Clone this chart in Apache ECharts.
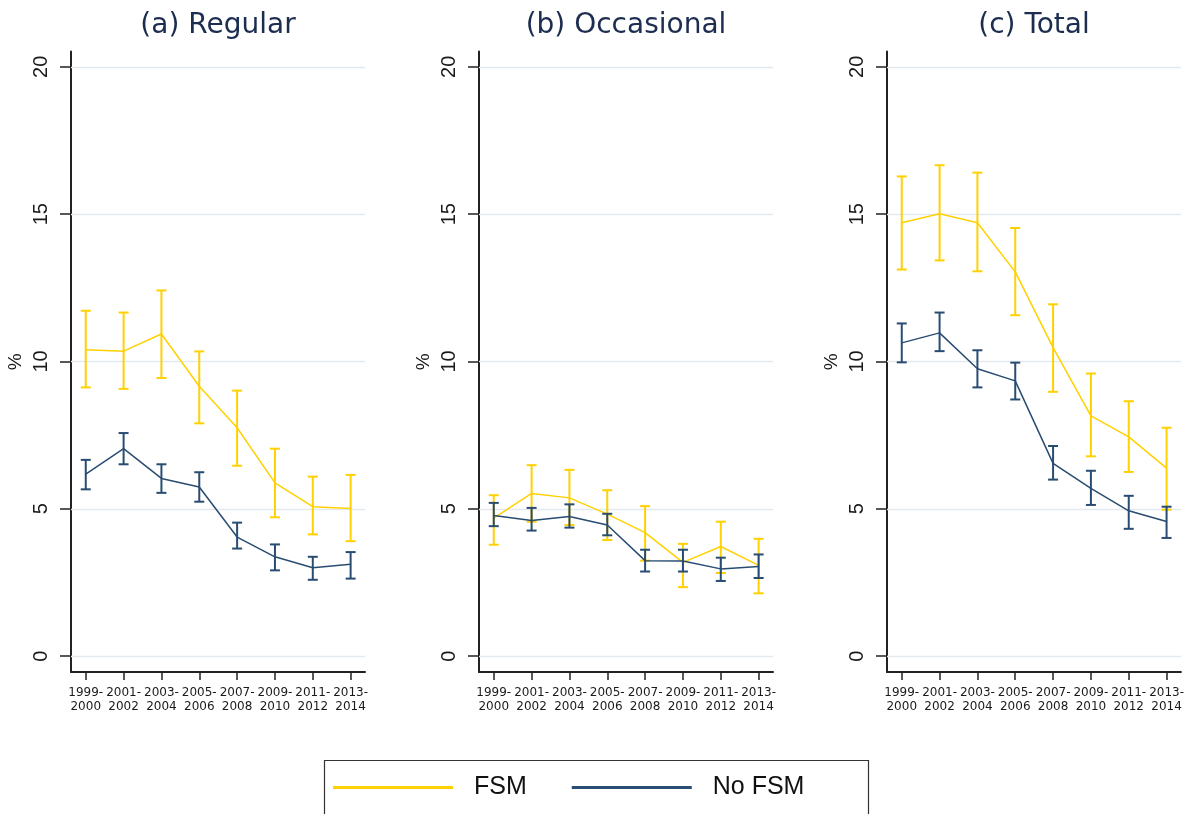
<!DOCTYPE html>
<html>
<head>
<meta charset="utf-8">
<script src="https://cdn.jsdelivr.net/npm/echarts@6/dist/echarts.min.js"></script>
<style>
html,body{margin:0;padding:0;background:#fff;}
#chart{width:1187px;height:814px;}
</style>
</head>
<body>
<div id="chart"></div>
<script>
// ---- data ----
const categories = ['1999-2000','2001-2002','2003-2004','2005-2006','2007-2008','2009-2010','2011-2012','2013-2014'];
const yTicks = [0, 5, 10, 15, 20];
const panelTitles = ['(a) Regular', '(b) Occasional', '(c) Total'];

const regularFsm   = [10.40, 10.35, 10.93, 9.16, 7.75, 5.88, 5.07, 5.01];
const regularFsmLo = [9.12, 9.07, 9.44, 7.90, 6.46, 4.71, 4.13, 3.90];
const regularFsmHi = [11.72, 11.66, 12.41, 10.34, 9.01, 7.04, 6.09, 6.15];
const regularNo    = [6.18, 7.04, 6.03, 5.74, 4.04, 3.37, 3.00, 3.12];
const regularNoLo  = [5.66, 6.51, 5.54, 5.24, 3.65, 2.91, 2.59, 2.63];
const regularNoHi  = [6.66, 7.57, 6.51, 6.24, 4.53, 3.79, 3.37, 3.53];

const occFsm   = [4.68, 5.52, 5.37, 4.82, 4.19, 3.18, 3.72, 3.08];
const occFsmLo = [3.78, 4.56, 4.45, 3.94, 3.24, 2.34, 2.82, 2.13];
const occFsmHi = [5.46, 6.48, 6.32, 5.63, 5.09, 3.81, 4.56, 3.98];
const occNo    = [4.77, 4.60, 4.74, 4.45, 3.24, 3.23, 2.96, 3.04];
const occNoLo  = [4.41, 4.26, 4.36, 4.10, 2.87, 2.87, 2.55, 2.65];
const occNoHi  = [5.20, 5.03, 5.15, 4.83, 3.61, 3.61, 3.34, 3.45];

const totFsm   = [14.71, 15.01, 14.71, 13.04, 10.47, 8.15, 7.44, 6.38];
const totFsmLo = [13.12, 13.43, 13.06, 11.57, 8.97, 6.78, 6.25, 4.97];
const totFsmHi = [16.28, 16.66, 16.41, 14.53, 11.94, 9.59, 8.65, 7.75];
const totNo    = [10.63, 10.97, 9.75, 9.34, 6.54, 5.69, 4.93, 4.57];
const totNoLo  = [9.97, 10.35, 9.12, 8.71, 5.99, 5.13, 4.32, 4.01];
const totNoHi  = [11.29, 11.66, 10.38, 9.96, 7.13, 6.29, 5.44, 5.07];

const seriesNames = ['FSM', 'No FSM'];

// ---- styling ----
const FSM_COLOR = '#FFD100';
const NO_COLOR = '#284c72';
const AXIS_COLOR = '#222';
const GRID_COLOR = '#e2eaef';
const panels = [
  {fsm: regularFsm, fsmLo: regularFsmLo, fsmHi: regularFsmHi, no: regularNo, noLo: regularNoLo, noHi: regularNoHi},
  {fsm: occFsm, fsmLo: occFsmLo, fsmHi: occFsmHi, no: occNo, noLo: occNoLo, noHi: occNoHi},
  {fsm: totFsm, fsmLo: totFsmLo, fsmHi: totFsmHi, no: totNo, noLo: totNoLo, noHi: totNoHi}
];
const gridLefts = [71, 479, 887];
const GRID_W = 294;

function errRender(color) {
  return function (params, api) {
    const x = api.value(0), lo = api.value(1), hi = api.value(2);
    const a = api.coord([x, hi]), b = api.coord([x, lo]);
    const hw = 5;
    const style = {stroke: color, lineWidth: 2, fill: null};
    return {
      type: 'group',
      children: [
        {type: 'line', shape: {x1: a[0], y1: a[1], x2: b[0], y2: b[1]}, style: style},
        {type: 'line', shape: {x1: a[0] - hw, y1: a[1], x2: a[0] + hw, y2: a[1]}, style: style},
        {type: 'line', shape: {x1: b[0] - hw, y1: b[1], x2: b[0] + hw, y2: b[1]}, style: style}
      ]
    };
  };
}

const idx = categories.map((c, i) => i);
const grids = [], xAxes = [], yAxes = [], series = [], titles = [];

panels.forEach((p, k) => {
  grids.push({left: gridLefts[k], width: GRID_W, top: 51.5, height: 620.5, containLabel: false});
  titles.push({
    text: panelTitles[k], left: gridLefts[k] + GRID_W / 2, top: 12, textAlign: 'center', padding: 0,
    textStyle: {fontFamily: 'DejaVu Sans', fontSize: 28, fontWeight: 'normal', color: '#1d2d50'}
  });
  xAxes.push({
    type: 'value', gridIndex: k, min: -0.39, max: 7.38,
    axisLine: {show: true, onZero: false, lineStyle: {color: AXIS_COLOR, width: 2}},
    axisTick: {show: true, customValues: idx, length: 8, lineStyle: {color: AXIS_COLOR, width: 1.5}},
    axisLabel: {
      customValues: idx, margin: 14, fontFamily: 'DejaVu Sans', fontSize: 12, lineHeight: 14, color: '#1a1a1a',
      formatter: v => categories[Math.round(v)].replace('-', '-\n')
    },
    splitLine: {show: false}
  });
  yAxes.push({
    type: 'value', gridIndex: k, min: -0.54, max: 20.52,
    axisLine: {show: true, onZero: false, lineStyle: {color: AXIS_COLOR, width: 2}},
    axisTick: {show: true, customValues: yTicks, length: 11, lineStyle: {color: AXIS_COLOR, width: 1.5}},
    axisLabel: {customValues: yTicks, rotate: 90, margin: 20, fontFamily: 'Liberation Sans', fontSize: 20, color: '#1a1a1a'},
    splitLine: {show: false},
    name: '%', nameLocation: 'middle', nameRotate: 90, nameGap: 46,
    nameTextStyle: {fontFamily: 'Liberation Sans', fontSize: 19, color: '#1a1a1a'}
  });
  series.push({
    type: 'line', name: seriesNames[0], xAxisIndex: k, yAxisIndex: k,
    data: p.fsm.map((v, i) => [i, v]), symbol: 'none', color: FSM_COLOR,
    lineStyle: {color: FSM_COLOR, width: 1.5}, z: 3,
    markLine: {
      silent: true, symbol: 'none', label: {show: false},
      lineStyle: {color: GRID_COLOR, width: 1.3, type: 'solid'},
      data: yTicks.map(t => ({yAxis: t})), z: 1
    }
  });
  series.push({
    type: 'custom', name: 'FSM CI', xAxisIndex: k, yAxisIndex: k,
    data: p.fsmLo.map((v, i) => [i, v, p.fsmHi[i]]),
    encode: {x: 0, y: [1, 2]}, renderItem: errRender(FSM_COLOR), z: 3
  });
  series.push({
    type: 'line', name: seriesNames[1], xAxisIndex: k, yAxisIndex: k,
    data: p.no.map((v, i) => [i, v]), symbol: 'none', color: NO_COLOR,
    lineStyle: {color: NO_COLOR, width: 1.5}, z: 4
  });
  series.push({
    type: 'custom', name: 'No FSM CI', xAxisIndex: k, yAxisIndex: k,
    data: p.noLo.map((v, i) => [i, v, p.noHi[i]]),
    encode: {x: 0, y: [1, 2]}, renderItem: errRender(NO_COLOR), z: 4
  });
});

const option = {
  backgroundColor: '#ffffff',
  animation: false,
  title: titles,
  grid: grids,
  xAxis: xAxes,
  yAxis: yAxes,
  legend: {
    data: seriesNames.map(n => ({name: n, icon: 'rect'})),
    left: 333, top: 775, padding: 0,
    itemWidth: 120, itemHeight: 3, itemGap: 45,
    textStyle: {fontFamily: 'Liberation Sans', fontSize: 25, color: '#111', padding: [0, 0, 0, 16]}
  },
  graphic: [{
    type: 'rect', left: 322, top: 758,
    shape: {x: 0, y: 0, width: 544, height: 80},
    style: {fill: null, stroke: '#333', lineWidth: 1.2}, silent: true
  }],
  series: series
};

const chart = echarts.init(document.getElementById('chart'));
chart.setOption(option);
</script>
</body>
</html>
